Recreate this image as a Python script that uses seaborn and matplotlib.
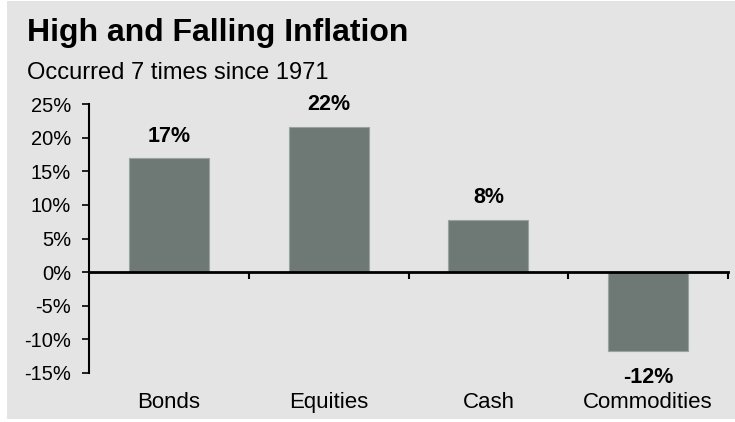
import matplotlib
matplotlib.use("Agg")
import matplotlib.pyplot as plt
import matplotlib.ticker as mticker
from matplotlib.patches import Rectangle
import seaborn as sns
import pandas as pd

# Chart data
categories = ["Bonds", "Equities", "Cash", "Commodities"]
returns = [16.9, 21.6, 7.8, -11.8]
labels = ["17%", "22%", "8%", "-12%"]
y_ticks = [-15, -10, -5, 0, 5, 10, 15, 20, 25]

bg = "#e3e4e3"
bar_color = "#6e7975"

sns.set_style("white", {"axes.edgecolor": "black", "text.color": "black",
                        "xtick.color": "black", "ytick.color": "black"})
plt.rcParams["font.family"] = ["Liberation Sans", "DejaVu Sans"]

df = pd.DataFrame({"asset": categories, "ret": returns})

fig = plt.figure(figsize=(7.35, 4.22), dpi=100)
fig.patch.set_facecolor("white")
# gray panel with a thin white margin at left/top like the original
fig.patches.append(Rectangle((7 / 735, 3 / 422), 728 / 735, 418 / 422,
                             transform=fig.transFigure, facecolor=bg,
                             edgecolor="none", zorder=-10))

ax = fig.add_axes([89 / 735, 1 - 373 / 422, (728 - 89) / 735, (373 - 104) / 422])
ax.set_facecolor("none")

sns.barplot(data=df, x="asset", y="ret", color=bar_color, width=0.5,
            edgecolor="#9aa3a0", linewidth=0.8, ax=ax, saturation=1)

ax.set_ylim(-15, 25)
ax.set_xlim(-0.5, len(categories) - 0.5)
ax.set_yticks(y_ticks)
ax.yaxis.set_major_formatter(mticker.FuncFormatter(lambda v, p: f"{v:.0f}%"))
ax.tick_params(axis="y", direction="out", length=5, width=1.2, pad=8,
               labelsize=14.5, colors="black", left=True)

# x axis sits at zero, ticks between categories
for s in ["top", "right"]:
    ax.spines[s].set_visible(False)
ax.spines["left"].set_linewidth(1.5)
ax.spines["bottom"].set_position(("data", 0))
ax.spines["bottom"].set_linewidth(2)
ax.set_xticks([i + 0.5 for i in range(len(categories))])
ax.set_xticklabels([])
ax.tick_params(axis="x", direction="out", length=5, width=1.5, bottom=True,
               colors="black")
ax.set_xlabel("")
ax.set_ylabel("")

# category names under the plot
for i, name in enumerate(categories):
    ax.annotate(name, xy=(i, 0), xycoords=ax.get_xaxis_transform(),
                xytext=(0, -21), textcoords="offset points",
                ha="center", va="center", fontsize=16, color="black")

# value labels
for i, (v, lab) in enumerate(zip(returns, labels)):
    off = 16 if v >= 0 else -19
    ax.annotate(lab, xy=(i, v), xytext=(0, off), textcoords="offset points",
                ha="center", va="center", fontsize=15.5, fontweight="bold",
                color="black")

fig.text(27 / 735, 1 - 33 / 422, "High and Falling Inflation", fontsize=23,
         fontweight="bold", ha="left", va="center", color="black")
fig.text(27 / 735, 1 - 73 / 422, "Occurred 7 times since 1971", fontsize=17,
         ha="left", va="center", color="black",
         family=["Liberation Sans Narrow", "Liberation Sans", "DejaVu Sans"])

fig.savefig("out.png", dpi=100, facecolor=fig.get_facecolor())
